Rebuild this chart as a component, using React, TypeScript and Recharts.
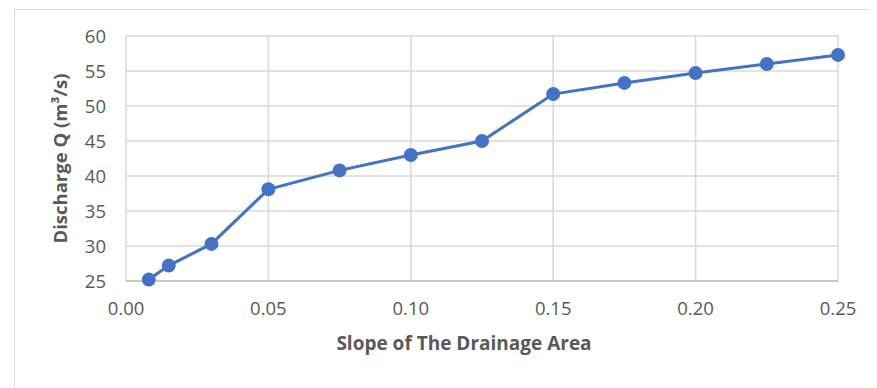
import React from "react";
import { CartesianGrid, Label, Line, LineChart, XAxis, YAxis } from "recharts";

// slope of drainage area vs discharge Q (m³/s)
const slopes = [0.008, 0.015, 0.03, 0.05, 0.075, 0.1, 0.125, 0.15, 0.175, 0.2, 0.225, 0.25];
const discharge = [25.2, 27.2, 30.3, 38.1, 40.8, 43.0, 45.0, 51.7, 53.3, 54.7, 56.0, 57.3];

const xTicks = [0, 0.05, 0.1, 0.15, 0.2, 0.25];
const yTicks = [25, 30, 35, 40, 45, 50, 55, 60];

const data = slopes.map((s, i) => ({ s, q: discharge[i] }));

const font = "'Open Sans', 'Noto Sans', sans-serif";
const textColor = "#595959";

export default function App() {
  return (
    <div
      style={{
        position: "relative",
        width: 877,
        height: 388,
        margin: "-8px 0 0 -8px",
        background: "#fff",
        overflow: "hidden",
        fontFamily: font,
      }}
    >
      <div
        style={{
          position: "absolute",
          left: 14,
          top: 9,
          width: 900,
          height: 400,
          border: "1.5px solid #d9d9d9",
        }}
      />
      <LineChart
        width={877}
        height={388}
        data={data}
        margin={{ top: 36, right: 39, left: 0, bottom: 0 }}
        style={{ position: "absolute", left: 0, top: 0 }}
      >
        <CartesianGrid stroke="#d9d9d9" strokeWidth={1.5} />
        <XAxis
          dataKey="s"
          type="number"
          domain={[0, 0.25]}
          ticks={xTicks}
          tickFormatter={(v: number) => v.toFixed(2)}
          height={107}
          tickLine={false}
          tickSize={0}
          tickMargin={21}
          stroke="#bfbfbf"
          strokeWidth={1.5}
          tick={{ fill: textColor, fontSize: 18.5, fontFamily: font }}
        >
          <Label
            value="Slope of The Drainage Area"
            position="insideBottom"
            offset={38}
            dx={-18}
            style={{ fill: textColor, fontSize: 19, fontWeight: 700, fontFamily: font }}
          />
        </XAxis>
        <YAxis
          type="number"
          domain={[25, 60]}
          ticks={yTicks}
          width={126}
          axisLine={false}
          tickLine={false}
          tickSize={0}
          tickMargin={20}
          tick={{ fill: textColor, fontSize: 18.5, fontFamily: font }}
        >
          <Label
            value="Discharge Q (m³/s)"
            angle={-90}
            position="insideLeft"
            offset={60}
            style={{ fill: textColor, fontSize: 18.5, fontWeight: 700, fontFamily: font, textAnchor: "middle" }}
          />
        </YAxis>
        <Line
          type="linear"
          dataKey="q"
          stroke="#4472c4"
          strokeWidth={3}
          dot={{ r: 7, fill: "#4472c4", stroke: "#4472c4", strokeWidth: 0 }}
          isAnimationActive={false}
        />
      </LineChart>
    </div>
  );
}
